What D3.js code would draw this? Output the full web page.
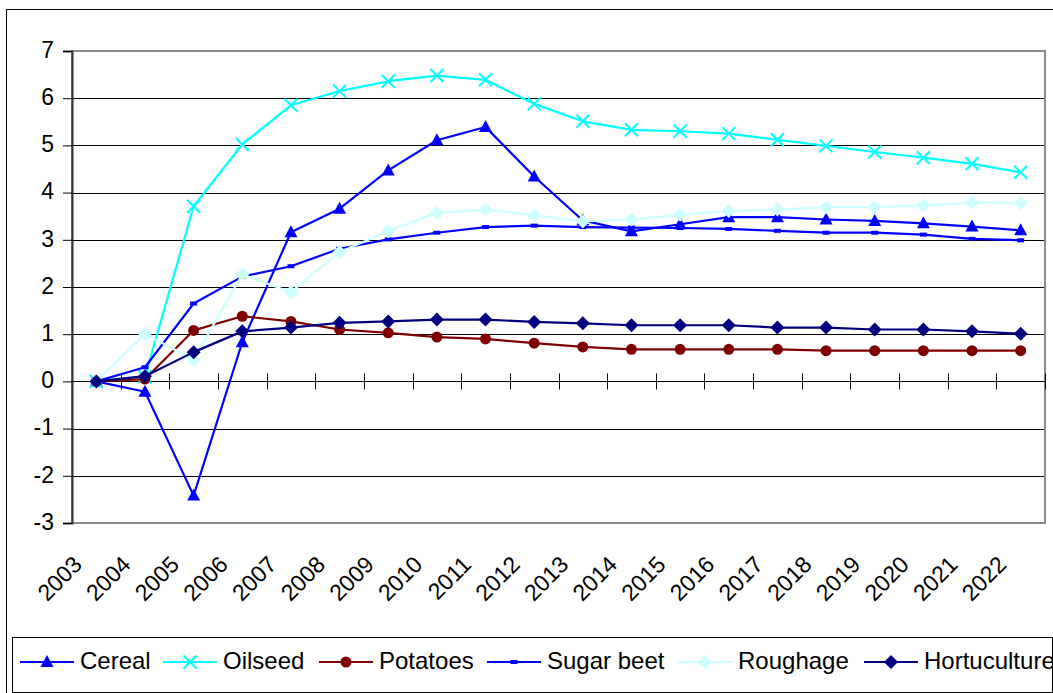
<!DOCTYPE html>
<html>
<head>
<meta charset="utf-8">
<script src="https://cdn.jsdelivr.net/npm/d3@7/dist/d3.min.js"></script>
<style>
  html, body { margin: 0; padding: 0; background: #fff; }
  svg { display: block; font-family: "Liberation Sans", Arial, sans-serif; }
</style>
</head>
<body>
<svg id="chart" width="1053" height="693"></svg>
<script>
// Years on the category axis
const years = ["2003","2004","2005","2006","2007","2008","2009","2010","2011","2012",
               "2013","2014","2015","2016","2017","2018","2019","2020","2021","2022"];

// Series values (change relative to 2003)
const cereal      = [0, -0.22, -2.42, 0.83, 3.16, 3.66, 4.47, 5.11, 5.39, 4.34,
                     3.41, 3.18, 3.33, 3.48, 3.48, 3.43, 3.40, 3.35, 3.28, 3.20];
const oilseed     = [0, 0.10, 3.71, 5.02, 5.85, 6.15, 6.36, 6.48, 6.39, 5.88,
                     5.51, 5.33, 5.30, 5.25, 5.12, 4.99, 4.86, 4.74, 4.61, 4.43];
const potatoes    = [0, 0.05, 1.08, 1.38, 1.27, 1.10, 1.03, 0.94, 0.90, 0.81,
                     0.73, 0.68, 0.68, 0.68, 0.68, 0.65, 0.65, 0.65, 0.65, 0.65];
const sugarBeet   = [0, 0.30, 1.65, 2.22, 2.44, 2.81, 3.01, 3.15, 3.27, 3.30,
                     3.27, 3.26, 3.25, 3.23, 3.19, 3.15, 3.15, 3.11, 3.02, 2.99];
const roughage    = [0, 1.01, 0.46, 2.27, 1.89, 2.74, 3.18, 3.57, 3.64, 3.52,
                     3.39, 3.43, 3.53, 3.61, 3.64, 3.69, 3.69, 3.73, 3.79, 3.78];
const hortuculture= [0, 0.11, 0.62, 1.06, 1.14, 1.24, 1.27, 1.31, 1.31, 1.26,
                     1.23, 1.19, 1.19, 1.19, 1.14, 1.14, 1.10, 1.10, 1.06, 1.01];

const yTicks = [-3, -2, -1, 0, 1, 2, 3, 4, 5, 6, 7];

const seriesNames = ["Cereal", "Oilseed", "Potatoes", "Sugar beet", "Roughage", "Hortuculture"];
const seriesValues = [cereal, oilseed, potatoes, sugarBeet, roughage, hortuculture];
const seriesColors = ["#0000FF", "#00FFFF", "#800000", "#0000FF", "#CCFFFF", "#000080"];
const seriesMarkers = ["triangle", "cross", "circle", "dash", "diamond", "diamond"];

const svg = d3.select("#chart");

// Plot area
const plotL = 72, plotR = 1045, plotT = 51, plotB = 523;

const x = d3.scaleBand().domain(years).range([plotL, plotR]).padding(0);
const y = d3.scaleLinear().domain([-3, 7]).range([plotB, plotT]);
const cx = d => x(d) + x.bandwidth() / 2;

// Outer chart frame
svg.append("rect")
  .attr("x", 6.5).attr("y", 9.5).attr("width", 1060).attr("height", 700)
  .attr("fill", "#fff").attr("stroke", "#000").attr("stroke-width", 1);

// Horizontal gridlines
svg.append("g").selectAll("line")
  .data(yTicks.filter(t => t > -3 && t < 7))
  .join("line")
  .attr("x1", plotL).attr("x2", plotR)
  .attr("y1", d => Math.round(y(d)) + 0.5).attr("y2", d => Math.round(y(d)) + 0.5)
  .attr("stroke", "#000").attr("stroke-width", 1);

// Plot border (grey)
svg.append("rect")
  .attr("x", plotL).attr("y", plotT).attr("width", plotR - plotL).attr("height", plotB - plotT)
  .attr("fill", "none").attr("stroke", "#8c8c8c").attr("stroke-width", 2);

// Y axis
const yAxis = d3.axisLeft(y).tickValues(yTicks).tickSize(9).tickPadding(9).tickFormat(d => String(d));
const gy = svg.append("g").attr("transform", `translate(${plotL},0)`).call(yAxis);
gy.select(".domain").attr("stroke", "#333").attr("stroke-width", 2);
gy.selectAll(".tick line").attr("stroke", "#000").attr("stroke-width", 1);
gy.selectAll(".tick text")
  .attr("font-size", 23).attr("fill", "#000")
  .attr("font-family", "Liberation Sans, Arial, sans-serif")
  .attr("dy", "0.27em");

// X axis along zero, ticks at category boundaries
const y0 = Math.round(y(0)) + 0.5;
svg.append("line")
  .attr("x1", plotL).attr("x2", plotR).attr("y1", y0).attr("y2", y0)
  .attr("stroke", "#000").attr("stroke-width", 1.2);
const boundaries = years.slice(1).map(d => x(d)).concat([plotR]);
svg.append("g").selectAll("line")
  .data(boundaries)
  .join("line")
  .attr("x1", d => Math.round(d) + 0.5)
  .attr("x2", d => Math.round(d) + 0.5)
  .attr("y1", y0 - 8).attr("y2", y0 + 8)
  .attr("stroke", "#000").attr("stroke-width", 1);

// Rotated year labels
svg.append("g").selectAll("text")
  .data(years)
  .join("text")
  .attr("transform", d => `translate(${cx(d) - 13},566) rotate(-45)`)
  .attr("text-anchor", "end")
  .attr("font-size", 23)
  .attr("fill", "#000")
  .text(d => d);

// Marker drawing
function marker(g, type, color) {
  if (type === "triangle") {
    g.append("path").attr("d", "M0,-7 L6.5,5 L-6.5,5 Z").attr("fill", color);
  } else if (type === "cross") {
    g.append("path").attr("d", "M-6.5,-6.5 L6.5,6.5 M-6.5,6.5 L6.5,-6.5")
      .attr("stroke", color).attr("stroke-width", 2).attr("fill", "none");
  } else if (type === "circle") {
    g.append("circle").attr("r", 5.5).attr("fill", color);
  } else if (type === "dash") {
    g.append("rect").attr("x", -3.5).attr("y", -2).attr("width", 7).attr("height", 4).attr("fill", color);
  } else if (type === "diamond") {
    g.append("path").attr("d", "M0,-7 L7,0 L0,7 L-7,0 Z").attr("fill", color);
  }
}

const line = d3.line().x((d, i) => cx(years[i])).y(d => y(d));

seriesValues.forEach((vals, s) => {
  const g = svg.append("g");
  g.append("path")
    .attr("d", line(vals))
    .attr("fill", "none")
    .attr("stroke", seriesColors[s])
    .attr("stroke-width", 2.2)
    .attr("stroke-linejoin", "round");
  vals.forEach((v, i) => {
    const m = g.append("g").attr("transform", `translate(${cx(years[i])},${y(v)})`);
    marker(m, seriesMarkers[s], seriesColors[s]);
  });
});

// Legend
const legX0 = 12, legX1 = 1052, legY0 = 637, legY1 = 692;
svg.append("defs").append("clipPath").attr("id", "legclip")
  .append("rect").attr("x", legX0).attr("y", legY0).attr("width", legX1 - legX0).attr("height", legY1 - legY0);
const leg = svg.append("g");
leg.append("rect")
  .attr("x", legX0 + 0.5).attr("y", legY0 + 0.5)
  .attr("width", legX1 - legX0).attr("height", legY1 - legY0)
  .attr("fill", "#fff").attr("stroke", "#000").attr("stroke-width", 1);

const legendStarts = [20, 163, 319, 487, 678, 864];
const legYc = 662;
const items = leg.append("g").attr("clip-path", "url(#legclip)");
seriesNames.forEach((name, s) => {
  const lx = legendStarts[s];
  items.append("line")
    .attr("x1", lx).attr("x2", lx + 54).attr("y1", legYc).attr("y2", legYc)
    .attr("stroke", seriesColors[s]).attr("stroke-width", 2.2);
  const m = items.append("g").attr("transform", `translate(${lx + 27},${legYc})`);
  marker(m, seriesMarkers[s], seriesColors[s]);
  items.append("text")
    .attr("x", lx + 60).attr("y", 669)
    .attr("font-size", 24).attr("fill", "#000")
    .text(name);
});
</script>
</body>
</html>
